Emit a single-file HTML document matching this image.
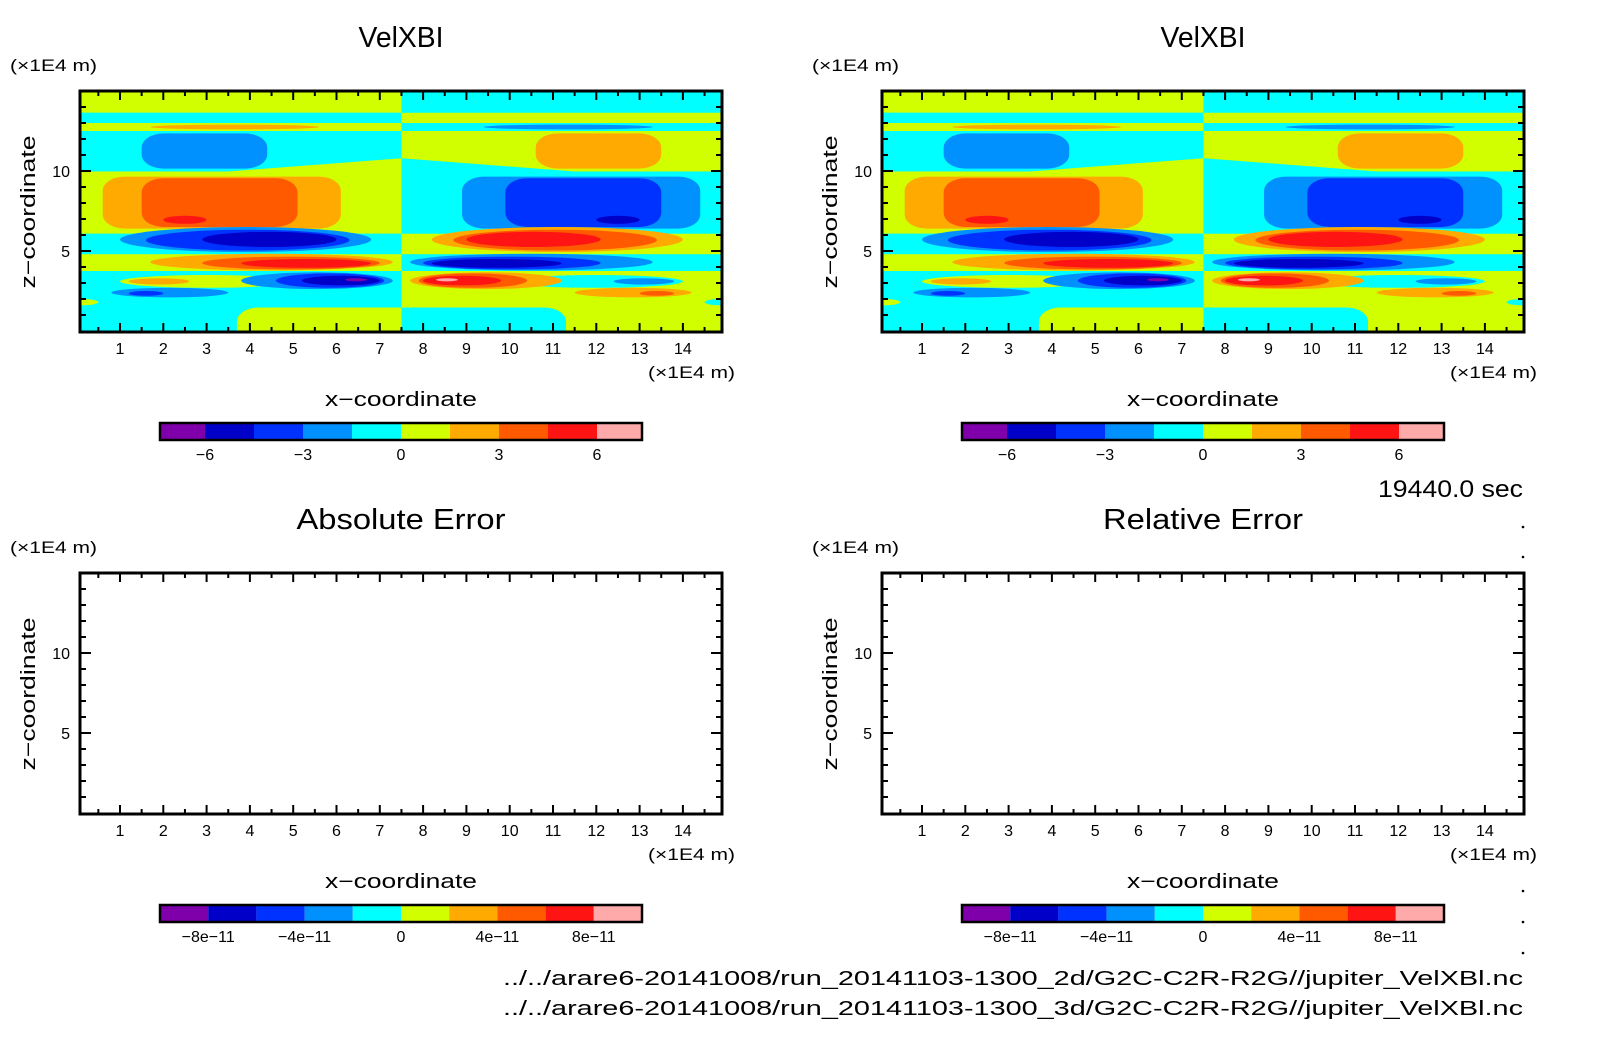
<!DOCTYPE html>
<html><head><meta charset="utf-8"><style>
html,body{margin:0;padding:0;background:#fff;}
svg{display:block;font-family:"Liberation Sans",sans-serif;}
</style></head><body>
<svg id="fig" width="1604" height="1054" viewBox="0 0 1604 1054" xmlns="http://www.w3.org/2000/svg"></svg>
<script>
// ---- data ----
const xTicks = [1,2,3,4,5,6,7,8,9,10,11,12,13,14];
const zTicks = [5,10];
const cbColors = ["#7f00aa","#0000c8","#0032ff","#0091ff","#00ffff","#d2ff00","#ffaa00","#ff5a00","#ff1414","#ffaaaa"];
const cbBoundsTop = [-6,-4.5,-3,-1.5,0,1.5,3,4.5,6];
const cbLabelsTop = ["−6","−3","0","3","6"];
const cbLabelValsTop = [-6,-3,0,3,6];
const cbBoundsErr = [-8,-6,-4,-2,0,2,4,6,8];
const cbLabelsErr = ["−8e−11","−4e−11","0","4e−11","8e−11"];
const cbLabelValsErr = [-8,-4,0,4,8];
// contour regions of left half: [shape, x0, x1, z0, z1, level]; right half = mirrored about x=7.5, sign flipped
const regionShape = ["rect","rect","rect","ell","rect","wedge","rr","rect","rr","rr","ell","rect","ell","ell","ell","rect","ell","ell","ell","rect","ell","ell","ell","ell","ell","ell","ell","ell","ell","rr"];
const regionX0 = [0,0,0,1.7,0,3.5,1.5,0,0.6,1.5,2.0,0,1.0,1.6,2.9,0,1.7,2.9,3.8,0,1.0,1.2,3.8,4.6,5.2,6.2,0.8,1.2,-0.3,3.7];
const regionX1 = [7.5,7.5,7.5,5.6,7.5,7.5,4.4,7.5,6.1,5.1,3.0,7.5,6.8,6.3,6.0,7.5,7.3,7.0,6.8,7.5,5.0,2.6,7.3,7.1,7.0,6.7,3.5,2.0,0.5,9.5];
const regionZ0 = [13.64,13.0,12.5,12.6,9.97,9.97,10.15,6.08,6.4,6.5,6.7,4.72,4.93,5.03,5.25,3.75,3.78,3.85,3.95,0,2.7,2.9,2.62,2.7,2.85,3.1,2.1,2.2,1.6,-1.5];
const regionZ1 = [15.2,13.64,13.0,12.9,12.5,10.8,12.35,9.97,9.65,9.55,7.2,6.08,6.5,6.33,6.2,4.8,4.83,4.65,4.5,3.75,3.5,3.3,3.67,3.6,3.45,3.3,2.7,2.5,2.0,1.47];
const regionLevel = [5,4,5,6,4,5,3,5,6,7,8,4,3,2,1,5,6,7,8,4,5,6,3,2,1,0,3,2,5,5];

// ---- helpers ----
const NS="http://www.w3.org/2000/svg";
const svg=document.getElementById('fig');
function mk(tag,attrs,parent){const e=document.createElementNS(NS,tag);for(const k in attrs)e.setAttribute(k,attrs[k]);(parent||svg).appendChild(e);return e;}
function txt(s,attrs,parent){const e=mk('text',attrs,parent);e.textContent=s;return e;}

const FL=80,FR=722,FT=91,FB=332;
function xs(v,ox){return ox+76.7+43.3*v;}
function zs(v,oy){return oy+331-16*v;}

function panel(ox,oy,title,titleW,filled,idx){
  const g=mk('g',{});
  
  
  const t=txt(title,{x:ox+401,y:oy+47,'text-anchor':'middle','font-size':29,textLength:titleW,lengthAdjust:'spacingAndGlyphs'},g);
  
  
  const u=txt('(×1E4 m)',{x:ox+10,y:oy+71,'font-size':17,textLength:87,lengthAdjust:'spacingAndGlyphs'},g);
  
  
  if(filled){
    const bg=mk('rect',{x:ox+FL,y:oy+FT,width:FR-FL,height:FB-FT,fill:'#00ffff'},g);
    
    
    for(let h=0;h<2;h++){
      const cid='clip'+idx+'_'+h;
      const cp=mk('clipPath',{id:cid},g);
      const cx0=h?xs(7.5,ox):ox+FL, cx1=h?ox+FR:xs(7.5,ox);
      mk('rect',{x:cx0,y:oy+FT,width:cx1-cx0,height:FB-FT},cp);
      const hg=mk('g',{'clip-path':'url(#'+cid+')'},g);
      
      
      for(let i=0;i<regionShape.length;i++){
        const lv=h?9-regionLevel[i]:regionLevel[i];
        const mx=v=>h?15-v:v;
        const xa=xs(mx(regionX0[i]),ox),xb=xs(mx(regionX1[i]),ox);
        const x0=Math.min(xa,xb),x1=Math.max(xa,xb);
        const y1=zs(regionZ0[i],oy),y0=zs(regionZ1[i],oy);
        const fill=cbColors[lv];
        let e;
        if(regionShape[i]==='rect'){
          e=mk('rect',{x:x0,y:y0,width:x1-x0,height:y1-y0,fill:fill},hg);
        }else if(regionShape[i]==='rr'){
          e=mk('rect',{x:x0,y:y0,width:x1-x0,height:y1-y0,rx:22,ry:14,fill:fill},hg);
        }else if(regionShape[i]==='ell'){
          e=mk('ellipse',{cx:(x0+x1)/2,cy:(y0+y1)/2,rx:(x1-x0)/2,ry:(y1-y0)/2,fill:fill},hg);
        }else{
          e=mk('polygon',{points:xa+','+y1+' '+xb+','+y0+' '+xb+','+y1,fill:fill},hg);
        }
        
        
      }
    }
  }
  const fr=mk('rect',{x:ox+FL,y:oy+FT,width:FR-FL,height:FB-FT,fill:'none',stroke:'#000','stroke-width':3},g);
  
  
  let d='';
  for(let v=0.5;v<15;v+=0.5){
    const x=xs(v,ox); if(x<=ox+FL+1||x>=ox+FR-1)continue;
    const L=(v%1===0)?9:5;
    d+=`M${x},${oy+FT}v${L}M${x},${oy+FB}v${-L}`;
  }
  for(let v=1;v<15;v++){
    const y=zs(v,oy); if(y<=oy+FT+1||y>=oy+FB-1)continue;
    const L=(v%5===0)?11:6;
    d+=`M${ox+FL},${y}h${L}M${ox+FR},${y}h${-L}`;
  }
  const tk=mk('path',{d:d,stroke:'#000','stroke-width':2,fill:'none'},g);
  
  
  xTicks.forEach(v=>{
    const e=txt(String(v),{x:xs(v,ox),y:oy+354,'text-anchor':'middle','font-size':16},g);
    
    
  });
  zTicks.forEach(v=>{
    const e=txt(String(v),{x:ox+70,y:zs(v,oy)+6,'text-anchor':'end','font-size':16},g);
    
    
  });
  const xu=txt('(×1E4 m)',{x:ox+735,y:oy+378,'text-anchor':'end','font-size':17,textLength:87,lengthAdjust:'spacingAndGlyphs'},g);
  
  
  const xt=txt('x−coordinate',{x:ox+401,y:oy+406,'text-anchor':'middle','font-size':20,textLength:152,lengthAdjust:'spacingAndGlyphs'},g);
  
  
  const zt=txt('z−coordinate',{x:0,y:0,'text-anchor':'middle','font-size':20,textLength:153,lengthAdjust:'spacingAndGlyphs',transform:`translate(${ox+35},${oy+212}) rotate(-90)`},g);
  
  
  const cb=mk('g',{},g);
  
  
  const bounds=filled?cbBoundsTop:cbBoundsErr;
  const labs=filled?cbLabelsTop:cbLabelsErr;
  const labVals=filled?cbLabelValsTop:cbLabelValsErr;
  const CL=160,CR=642,CT=423,CB=440;
  let cmap;
  if(filled){cmap=v=>401+v*(98/3);}else{cmap=v=>401+v*(48.2/2);}
  for(let i=0;i<10;i++){
    const a=i===0?ox+CL:ox+cmap(bounds[i-1]);
    const b=i===9?ox+CR:ox+cmap(bounds[i]);
    const r=mk('rect',{x:a,y:oy+CT,width:b-a,height:CB-CT,fill:cbColors[i]},cb);
    
    
  }
  mk('rect',{x:ox+CL,y:oy+CT,width:CR-CL,height:CB-CT,fill:'none',stroke:'#000','stroke-width':2.5},cb);
  labVals.forEach((v,i)=>{
    const e=txt(labs[i],{x:ox+cmap(v),y:oy+460,'text-anchor':'middle','font-size':16},cb);
    
    
  });
}
panel(0,0,'VelXBI',85,true,1);
panel(802,0,'VelXBI',85,true,2);
panel(0,482,'Absolute Error',209,false,3);
panel(802,482,'Relative Error',200,false,4);

const tm=txt('19440.0 sec',{x:1523,y:497,'text-anchor':'end','font-size':24,textLength:145,lengthAdjust:'spacingAndGlyphs'});


[527,557,891,922,953].forEach(y=>{
  const c=mk('circle',{cx:1523,cy:y,r:1.3,fill:'#000'});
  
  
});
const p1=txt('../../arare6-20141008/run_20141103-1300_2d/G2C-C2R-R2G//jupiter_VelXBl.nc',{x:1523,y:985,'text-anchor':'end','font-size':20,textLength:1020,lengthAdjust:'spacingAndGlyphs'});


const p2=txt('../../arare6-20141008/run_20141103-1300_3d/G2C-C2R-R2G//jupiter_VelXBl.nc',{x:1523,y:1015,'text-anchor':'end','font-size':20,textLength:1020,lengthAdjust:'spacingAndGlyphs'});


</script>
</body></html>
